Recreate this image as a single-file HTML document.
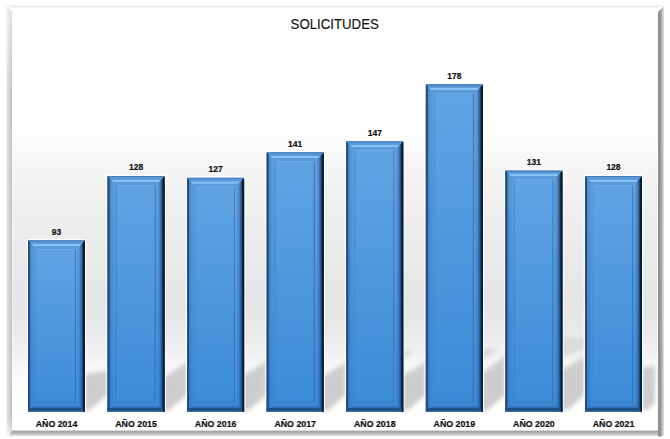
<!DOCTYPE html>
<html><head><meta charset="utf-8"><style>
html,body{margin:0;padding:0;background:#fff;}
body{width:670px;height:439px;overflow:hidden;}
svg{display:block;}
text{font-family:"Liberation Sans",sans-serif;}
.t{font-size:15.3px;text-anchor:middle;fill:#141414;stroke:#141414;stroke-width:0.15px;}
.v{font-size:8.5px;font-weight:bold;text-anchor:middle;fill:#111;stroke:#111;stroke-width:0.2px;}
.c{font-size:8.9px;font-weight:bold;text-anchor:middle;fill:#111;stroke:#111;stroke-width:0.2px;}
</style></head><body>
<svg width="670" height="439" viewBox="0 0 670 439">
<defs>
<linearGradient id="bgv" x1="0" y1="7" x2="0" y2="431" gradientUnits="userSpaceOnUse">
  <stop offset="0.0000" stop-color="#ffffff"/>
  <stop offset="0.2712" stop-color="#ffffff"/>
  <stop offset="0.3137" stop-color="#fcfcfc"/>
  <stop offset="0.3844" stop-color="#f5f5f5"/>
  <stop offset="0.4788" stop-color="#efefef"/>
  <stop offset="0.5849" stop-color="#eaeaea"/>
  <stop offset="0.6321" stop-color="#e8e8e8"/>
  <stop offset="0.6910" stop-color="#e5e5e5"/>
  <stop offset="0.7264" stop-color="#e6e6e6"/>
  <stop offset="0.7665" stop-color="#eaeaea"/>
  <stop offset="0.8090" stop-color="#f0f0f0"/>
  <stop offset="0.8561" stop-color="#f9f9f9"/>
  <stop offset="0.9080" stop-color="#ffffff"/>
  <stop offset="1.0000" stop-color="#ffffff"/>
</linearGradient>
<linearGradient id="fill" x1="0" y1="0" x2="0" y2="1">
  <stop offset="0" stop-color="#62a5e3"/>
  <stop offset="1" stop-color="#3b8ad7"/>
</linearGradient>
<linearGradient id="ov" x1="0" y1="0" x2="0" y2="1">
  <stop offset="0" stop-color="#0061c6" stop-opacity="0"/>
  <stop offset="1" stop-color="#0061c6" stop-opacity="0.35"/>
</linearGradient>
<linearGradient id="BD" x1="0" y1="0" x2="0" y2="1"><stop offset="0" stop-color="#1d4f80"/><stop offset="0.5" stop-color="#1d4f80"/><stop offset="1" stop-color="#3a6aa0"/></linearGradient>
<filter id="fblur" x="-5%" y="-5%" width="110%" height="110%"><feGaussianBlur stdDeviation="0.5"/></filter>
<filter id="blur" x="-50%" y="-50%" width="200%" height="200%"><feGaussianBlur stdDeviation="2"/></filter>
<linearGradient id="L0" gradientUnits="userSpaceOnUse" x1="28.00" y1="0" x2="38.00" y2="0"><stop offset="0" stop-color="#26497a"/><stop offset="0.16" stop-color="#2c5689"/><stop offset="0.22" stop-color="#4a86c6"/><stop offset="0.4" stop-color="#5595d5"/><stop offset="0.55" stop-color="#5a9ad6"/><stop offset="0.62" stop-color="#5aa0d4"/><stop offset="0.85" stop-color="#5a9ddb"/><stop offset="0.9" stop-color="#4e8fd5"/><stop offset="0.95" stop-color="#62a4e4"/><stop offset="1" stop-color="#5ea0e0"/></linearGradient><linearGradient id="R0" gradientUnits="userSpaceOnUse" x1="75.00" y1="0" x2="85.00" y2="0"><stop offset="0" stop-color="#3d7cc0"/><stop offset="0.08" stop-color="#3d7cc0"/><stop offset="0.13" stop-color="#62a2e2"/><stop offset="0.3" stop-color="#5e9edc"/><stop offset="0.45" stop-color="#5590cc"/><stop offset="0.6" stop-color="#4275b0"/><stop offset="0.74" stop-color="#2a4a70"/><stop offset="0.86" stop-color="#0f2035"/><stop offset="1" stop-color="#0a1525"/></linearGradient><linearGradient id="T0" gradientUnits="userSpaceOnUse" x1="0" y1="240.24" x2="0" y2="250.24"><stop offset="0" stop-color="#4678b8"/><stop offset="0.12" stop-color="#4a82c0"/><stop offset="0.15" stop-color="#5a9ad8"/><stop offset="0.35" stop-color="#5a9ad8"/><stop offset="0.4" stop-color="#86c4f5"/><stop offset="0.55" stop-color="#86c4f5"/><stop offset="0.6" stop-color="#5a9ad8"/><stop offset="0.85" stop-color="#5a9ad8"/><stop offset="0.88" stop-color="#6aacea"/><stop offset="1" stop-color="#66a8e6"/></linearGradient><linearGradient id="B0" gradientUnits="userSpaceOnUse" x1="0" y1="401.70" x2="0" y2="411.70"><stop offset="0" stop-color="#3a80c8"/><stop offset="0.12" stop-color="#3a80c8"/><stop offset="0.16" stop-color="#3c88d2"/><stop offset="0.45" stop-color="#3c88d2"/><stop offset="0.5" stop-color="#2f6eb5"/><stop offset="0.62" stop-color="#2f6eb5"/><stop offset="0.66" stop-color="#1d4f80"/><stop offset="0.83" stop-color="#1d4f80"/><stop offset="0.9" stop-color="#2f5f98"/><stop offset="1" stop-color="#3a6aa0"/></linearGradient><linearGradient id="L1" gradientUnits="userSpaceOnUse" x1="107.57" y1="0" x2="117.57" y2="0"><stop offset="0" stop-color="#26497a"/><stop offset="0.16" stop-color="#2c5689"/><stop offset="0.22" stop-color="#4a86c6"/><stop offset="0.4" stop-color="#5595d5"/><stop offset="0.55" stop-color="#5a9ad6"/><stop offset="0.62" stop-color="#5aa0d4"/><stop offset="0.85" stop-color="#5a9ddb"/><stop offset="0.9" stop-color="#4e8fd5"/><stop offset="0.95" stop-color="#62a4e4"/><stop offset="1" stop-color="#5ea0e0"/></linearGradient><linearGradient id="R1" gradientUnits="userSpaceOnUse" x1="154.57" y1="0" x2="164.57" y2="0"><stop offset="0" stop-color="#3d7cc0"/><stop offset="0.08" stop-color="#3d7cc0"/><stop offset="0.13" stop-color="#62a2e2"/><stop offset="0.3" stop-color="#5e9edc"/><stop offset="0.45" stop-color="#5590cc"/><stop offset="0.6" stop-color="#4275b0"/><stop offset="0.74" stop-color="#2a4a70"/><stop offset="0.86" stop-color="#0f2035"/><stop offset="1" stop-color="#0a1525"/></linearGradient><linearGradient id="T1" gradientUnits="userSpaceOnUse" x1="0" y1="176.02" x2="0" y2="186.02"><stop offset="0" stop-color="#4678b8"/><stop offset="0.12" stop-color="#4a82c0"/><stop offset="0.15" stop-color="#5a9ad8"/><stop offset="0.35" stop-color="#5a9ad8"/><stop offset="0.4" stop-color="#86c4f5"/><stop offset="0.55" stop-color="#86c4f5"/><stop offset="0.6" stop-color="#5a9ad8"/><stop offset="0.85" stop-color="#5a9ad8"/><stop offset="0.88" stop-color="#6aacea"/><stop offset="1" stop-color="#66a8e6"/></linearGradient><linearGradient id="B1" gradientUnits="userSpaceOnUse" x1="0" y1="401.70" x2="0" y2="411.70"><stop offset="0" stop-color="#3a80c8"/><stop offset="0.12" stop-color="#3a80c8"/><stop offset="0.16" stop-color="#3c88d2"/><stop offset="0.45" stop-color="#3c88d2"/><stop offset="0.5" stop-color="#2f6eb5"/><stop offset="0.62" stop-color="#2f6eb5"/><stop offset="0.66" stop-color="#1d4f80"/><stop offset="0.83" stop-color="#1d4f80"/><stop offset="0.9" stop-color="#2f5f98"/><stop offset="1" stop-color="#3a6aa0"/></linearGradient><linearGradient id="L2" gradientUnits="userSpaceOnUse" x1="187.14" y1="0" x2="197.14" y2="0"><stop offset="0" stop-color="#26497a"/><stop offset="0.16" stop-color="#2c5689"/><stop offset="0.22" stop-color="#4a86c6"/><stop offset="0.4" stop-color="#5595d5"/><stop offset="0.55" stop-color="#5a9ad6"/><stop offset="0.62" stop-color="#5aa0d4"/><stop offset="0.85" stop-color="#5a9ddb"/><stop offset="0.9" stop-color="#4e8fd5"/><stop offset="0.95" stop-color="#62a4e4"/><stop offset="1" stop-color="#5ea0e0"/></linearGradient><linearGradient id="R2" gradientUnits="userSpaceOnUse" x1="234.14" y1="0" x2="244.14" y2="0"><stop offset="0" stop-color="#3d7cc0"/><stop offset="0.08" stop-color="#3d7cc0"/><stop offset="0.13" stop-color="#62a2e2"/><stop offset="0.3" stop-color="#5e9edc"/><stop offset="0.45" stop-color="#5590cc"/><stop offset="0.6" stop-color="#4275b0"/><stop offset="0.74" stop-color="#2a4a70"/><stop offset="0.86" stop-color="#0f2035"/><stop offset="1" stop-color="#0a1525"/></linearGradient><linearGradient id="T2" gradientUnits="userSpaceOnUse" x1="0" y1="177.85" x2="0" y2="187.85"><stop offset="0" stop-color="#4678b8"/><stop offset="0.12" stop-color="#4a82c0"/><stop offset="0.15" stop-color="#5a9ad8"/><stop offset="0.35" stop-color="#5a9ad8"/><stop offset="0.4" stop-color="#86c4f5"/><stop offset="0.55" stop-color="#86c4f5"/><stop offset="0.6" stop-color="#5a9ad8"/><stop offset="0.85" stop-color="#5a9ad8"/><stop offset="0.88" stop-color="#6aacea"/><stop offset="1" stop-color="#66a8e6"/></linearGradient><linearGradient id="B2" gradientUnits="userSpaceOnUse" x1="0" y1="401.70" x2="0" y2="411.70"><stop offset="0" stop-color="#3a80c8"/><stop offset="0.12" stop-color="#3a80c8"/><stop offset="0.16" stop-color="#3c88d2"/><stop offset="0.45" stop-color="#3c88d2"/><stop offset="0.5" stop-color="#2f6eb5"/><stop offset="0.62" stop-color="#2f6eb5"/><stop offset="0.66" stop-color="#1d4f80"/><stop offset="0.83" stop-color="#1d4f80"/><stop offset="0.9" stop-color="#2f5f98"/><stop offset="1" stop-color="#3a6aa0"/></linearGradient><linearGradient id="L3" gradientUnits="userSpaceOnUse" x1="266.71" y1="0" x2="276.71" y2="0"><stop offset="0" stop-color="#26497a"/><stop offset="0.16" stop-color="#2c5689"/><stop offset="0.22" stop-color="#4a86c6"/><stop offset="0.4" stop-color="#5595d5"/><stop offset="0.55" stop-color="#5a9ad6"/><stop offset="0.62" stop-color="#5aa0d4"/><stop offset="0.85" stop-color="#5a9ddb"/><stop offset="0.9" stop-color="#4e8fd5"/><stop offset="0.95" stop-color="#62a4e4"/><stop offset="1" stop-color="#5ea0e0"/></linearGradient><linearGradient id="R3" gradientUnits="userSpaceOnUse" x1="313.71" y1="0" x2="323.71" y2="0"><stop offset="0" stop-color="#3d7cc0"/><stop offset="0.08" stop-color="#3d7cc0"/><stop offset="0.13" stop-color="#62a2e2"/><stop offset="0.3" stop-color="#5e9edc"/><stop offset="0.45" stop-color="#5590cc"/><stop offset="0.6" stop-color="#4275b0"/><stop offset="0.74" stop-color="#2a4a70"/><stop offset="0.86" stop-color="#0f2035"/><stop offset="1" stop-color="#0a1525"/></linearGradient><linearGradient id="T3" gradientUnits="userSpaceOnUse" x1="0" y1="152.16" x2="0" y2="162.16"><stop offset="0" stop-color="#4678b8"/><stop offset="0.12" stop-color="#4a82c0"/><stop offset="0.15" stop-color="#5a9ad8"/><stop offset="0.35" stop-color="#5a9ad8"/><stop offset="0.4" stop-color="#86c4f5"/><stop offset="0.55" stop-color="#86c4f5"/><stop offset="0.6" stop-color="#5a9ad8"/><stop offset="0.85" stop-color="#5a9ad8"/><stop offset="0.88" stop-color="#6aacea"/><stop offset="1" stop-color="#66a8e6"/></linearGradient><linearGradient id="B3" gradientUnits="userSpaceOnUse" x1="0" y1="401.70" x2="0" y2="411.70"><stop offset="0" stop-color="#3a80c8"/><stop offset="0.12" stop-color="#3a80c8"/><stop offset="0.16" stop-color="#3c88d2"/><stop offset="0.45" stop-color="#3c88d2"/><stop offset="0.5" stop-color="#2f6eb5"/><stop offset="0.62" stop-color="#2f6eb5"/><stop offset="0.66" stop-color="#1d4f80"/><stop offset="0.83" stop-color="#1d4f80"/><stop offset="0.9" stop-color="#2f5f98"/><stop offset="1" stop-color="#3a6aa0"/></linearGradient><linearGradient id="L4" gradientUnits="userSpaceOnUse" x1="346.28" y1="0" x2="356.28" y2="0"><stop offset="0" stop-color="#26497a"/><stop offset="0.16" stop-color="#2c5689"/><stop offset="0.22" stop-color="#4a86c6"/><stop offset="0.4" stop-color="#5595d5"/><stop offset="0.55" stop-color="#5a9ad6"/><stop offset="0.62" stop-color="#5aa0d4"/><stop offset="0.85" stop-color="#5a9ddb"/><stop offset="0.9" stop-color="#4e8fd5"/><stop offset="0.95" stop-color="#62a4e4"/><stop offset="1" stop-color="#5ea0e0"/></linearGradient><linearGradient id="R4" gradientUnits="userSpaceOnUse" x1="393.28" y1="0" x2="403.28" y2="0"><stop offset="0" stop-color="#3d7cc0"/><stop offset="0.08" stop-color="#3d7cc0"/><stop offset="0.13" stop-color="#62a2e2"/><stop offset="0.3" stop-color="#5e9edc"/><stop offset="0.45" stop-color="#5590cc"/><stop offset="0.6" stop-color="#4275b0"/><stop offset="0.74" stop-color="#2a4a70"/><stop offset="0.86" stop-color="#0f2035"/><stop offset="1" stop-color="#0a1525"/></linearGradient><linearGradient id="T4" gradientUnits="userSpaceOnUse" x1="0" y1="141.15" x2="0" y2="151.15"><stop offset="0" stop-color="#4678b8"/><stop offset="0.12" stop-color="#4a82c0"/><stop offset="0.15" stop-color="#5a9ad8"/><stop offset="0.35" stop-color="#5a9ad8"/><stop offset="0.4" stop-color="#86c4f5"/><stop offset="0.55" stop-color="#86c4f5"/><stop offset="0.6" stop-color="#5a9ad8"/><stop offset="0.85" stop-color="#5a9ad8"/><stop offset="0.88" stop-color="#6aacea"/><stop offset="1" stop-color="#66a8e6"/></linearGradient><linearGradient id="B4" gradientUnits="userSpaceOnUse" x1="0" y1="401.70" x2="0" y2="411.70"><stop offset="0" stop-color="#3a80c8"/><stop offset="0.12" stop-color="#3a80c8"/><stop offset="0.16" stop-color="#3c88d2"/><stop offset="0.45" stop-color="#3c88d2"/><stop offset="0.5" stop-color="#2f6eb5"/><stop offset="0.62" stop-color="#2f6eb5"/><stop offset="0.66" stop-color="#1d4f80"/><stop offset="0.83" stop-color="#1d4f80"/><stop offset="0.9" stop-color="#2f5f98"/><stop offset="1" stop-color="#3a6aa0"/></linearGradient><linearGradient id="L5" gradientUnits="userSpaceOnUse" x1="425.85" y1="0" x2="435.85" y2="0"><stop offset="0" stop-color="#26497a"/><stop offset="0.16" stop-color="#2c5689"/><stop offset="0.22" stop-color="#4a86c6"/><stop offset="0.4" stop-color="#5595d5"/><stop offset="0.55" stop-color="#5a9ad6"/><stop offset="0.62" stop-color="#5aa0d4"/><stop offset="0.85" stop-color="#5a9ddb"/><stop offset="0.9" stop-color="#4e8fd5"/><stop offset="0.95" stop-color="#62a4e4"/><stop offset="1" stop-color="#5ea0e0"/></linearGradient><linearGradient id="R5" gradientUnits="userSpaceOnUse" x1="472.85" y1="0" x2="482.85" y2="0"><stop offset="0" stop-color="#3d7cc0"/><stop offset="0.08" stop-color="#3d7cc0"/><stop offset="0.13" stop-color="#62a2e2"/><stop offset="0.3" stop-color="#5e9edc"/><stop offset="0.45" stop-color="#5590cc"/><stop offset="0.6" stop-color="#4275b0"/><stop offset="0.74" stop-color="#2a4a70"/><stop offset="0.86" stop-color="#0f2035"/><stop offset="1" stop-color="#0a1525"/></linearGradient><linearGradient id="T5" gradientUnits="userSpaceOnUse" x1="0" y1="84.27" x2="0" y2="94.27"><stop offset="0" stop-color="#4678b8"/><stop offset="0.12" stop-color="#4a82c0"/><stop offset="0.15" stop-color="#5a9ad8"/><stop offset="0.35" stop-color="#5a9ad8"/><stop offset="0.4" stop-color="#86c4f5"/><stop offset="0.55" stop-color="#86c4f5"/><stop offset="0.6" stop-color="#5a9ad8"/><stop offset="0.85" stop-color="#5a9ad8"/><stop offset="0.88" stop-color="#6aacea"/><stop offset="1" stop-color="#66a8e6"/></linearGradient><linearGradient id="B5" gradientUnits="userSpaceOnUse" x1="0" y1="401.70" x2="0" y2="411.70"><stop offset="0" stop-color="#3a80c8"/><stop offset="0.12" stop-color="#3a80c8"/><stop offset="0.16" stop-color="#3c88d2"/><stop offset="0.45" stop-color="#3c88d2"/><stop offset="0.5" stop-color="#2f6eb5"/><stop offset="0.62" stop-color="#2f6eb5"/><stop offset="0.66" stop-color="#1d4f80"/><stop offset="0.83" stop-color="#1d4f80"/><stop offset="0.9" stop-color="#2f5f98"/><stop offset="1" stop-color="#3a6aa0"/></linearGradient><linearGradient id="L6" gradientUnits="userSpaceOnUse" x1="505.42" y1="0" x2="515.42" y2="0"><stop offset="0" stop-color="#26497a"/><stop offset="0.16" stop-color="#2c5689"/><stop offset="0.22" stop-color="#4a86c6"/><stop offset="0.4" stop-color="#5595d5"/><stop offset="0.55" stop-color="#5a9ad6"/><stop offset="0.62" stop-color="#5aa0d4"/><stop offset="0.85" stop-color="#5a9ddb"/><stop offset="0.9" stop-color="#4e8fd5"/><stop offset="0.95" stop-color="#62a4e4"/><stop offset="1" stop-color="#5ea0e0"/></linearGradient><linearGradient id="R6" gradientUnits="userSpaceOnUse" x1="552.42" y1="0" x2="562.42" y2="0"><stop offset="0" stop-color="#3d7cc0"/><stop offset="0.08" stop-color="#3d7cc0"/><stop offset="0.13" stop-color="#62a2e2"/><stop offset="0.3" stop-color="#5e9edc"/><stop offset="0.45" stop-color="#5590cc"/><stop offset="0.6" stop-color="#4275b0"/><stop offset="0.74" stop-color="#2a4a70"/><stop offset="0.86" stop-color="#0f2035"/><stop offset="1" stop-color="#0a1525"/></linearGradient><linearGradient id="T6" gradientUnits="userSpaceOnUse" x1="0" y1="170.51" x2="0" y2="180.51"><stop offset="0" stop-color="#4678b8"/><stop offset="0.12" stop-color="#4a82c0"/><stop offset="0.15" stop-color="#5a9ad8"/><stop offset="0.35" stop-color="#5a9ad8"/><stop offset="0.4" stop-color="#86c4f5"/><stop offset="0.55" stop-color="#86c4f5"/><stop offset="0.6" stop-color="#5a9ad8"/><stop offset="0.85" stop-color="#5a9ad8"/><stop offset="0.88" stop-color="#6aacea"/><stop offset="1" stop-color="#66a8e6"/></linearGradient><linearGradient id="B6" gradientUnits="userSpaceOnUse" x1="0" y1="401.70" x2="0" y2="411.70"><stop offset="0" stop-color="#3a80c8"/><stop offset="0.12" stop-color="#3a80c8"/><stop offset="0.16" stop-color="#3c88d2"/><stop offset="0.45" stop-color="#3c88d2"/><stop offset="0.5" stop-color="#2f6eb5"/><stop offset="0.62" stop-color="#2f6eb5"/><stop offset="0.66" stop-color="#1d4f80"/><stop offset="0.83" stop-color="#1d4f80"/><stop offset="0.9" stop-color="#2f5f98"/><stop offset="1" stop-color="#3a6aa0"/></linearGradient><linearGradient id="L7" gradientUnits="userSpaceOnUse" x1="584.99" y1="0" x2="594.99" y2="0"><stop offset="0" stop-color="#26497a"/><stop offset="0.16" stop-color="#2c5689"/><stop offset="0.22" stop-color="#4a86c6"/><stop offset="0.4" stop-color="#5595d5"/><stop offset="0.55" stop-color="#5a9ad6"/><stop offset="0.62" stop-color="#5aa0d4"/><stop offset="0.85" stop-color="#5a9ddb"/><stop offset="0.9" stop-color="#4e8fd5"/><stop offset="0.95" stop-color="#62a4e4"/><stop offset="1" stop-color="#5ea0e0"/></linearGradient><linearGradient id="R7" gradientUnits="userSpaceOnUse" x1="631.99" y1="0" x2="641.99" y2="0"><stop offset="0" stop-color="#3d7cc0"/><stop offset="0.08" stop-color="#3d7cc0"/><stop offset="0.13" stop-color="#62a2e2"/><stop offset="0.3" stop-color="#5e9edc"/><stop offset="0.45" stop-color="#5590cc"/><stop offset="0.6" stop-color="#4275b0"/><stop offset="0.74" stop-color="#2a4a70"/><stop offset="0.86" stop-color="#0f2035"/><stop offset="1" stop-color="#0a1525"/></linearGradient><linearGradient id="T7" gradientUnits="userSpaceOnUse" x1="0" y1="176.02" x2="0" y2="186.02"><stop offset="0" stop-color="#4678b8"/><stop offset="0.12" stop-color="#4a82c0"/><stop offset="0.15" stop-color="#5a9ad8"/><stop offset="0.35" stop-color="#5a9ad8"/><stop offset="0.4" stop-color="#86c4f5"/><stop offset="0.55" stop-color="#86c4f5"/><stop offset="0.6" stop-color="#5a9ad8"/><stop offset="0.85" stop-color="#5a9ad8"/><stop offset="0.88" stop-color="#6aacea"/><stop offset="1" stop-color="#66a8e6"/></linearGradient><linearGradient id="B7" gradientUnits="userSpaceOnUse" x1="0" y1="401.70" x2="0" y2="411.70"><stop offset="0" stop-color="#3a80c8"/><stop offset="0.12" stop-color="#3a80c8"/><stop offset="0.16" stop-color="#3c88d2"/><stop offset="0.45" stop-color="#3c88d2"/><stop offset="0.5" stop-color="#2f6eb5"/><stop offset="0.62" stop-color="#2f6eb5"/><stop offset="0.66" stop-color="#1d4f80"/><stop offset="0.83" stop-color="#1d4f80"/><stop offset="0.9" stop-color="#2f5f98"/><stop offset="1" stop-color="#3a6aa0"/></linearGradient>
<linearGradient id="fl" x1="0" y1="0" x2="1" y2="0"><stop offset="0" stop-color="#e6e6e6"/><stop offset="1" stop-color="#c0c0c0"/></linearGradient>
<linearGradient id="flv" x1="0" y1="6" x2="0" y2="433" gradientUnits="userSpaceOnUse"><stop offset="0" stop-color="#ffffff" stop-opacity="0.5"/><stop offset="0.2" stop-color="#ffffff" stop-opacity="0"/><stop offset="0.97" stop-color="#ffffff" stop-opacity="0"/><stop offset="1" stop-color="#ffffff" stop-opacity="0.6"/></linearGradient>
<linearGradient id="fr" x1="0" y1="0" x2="1" y2="0"><stop offset="0" stop-color="#8a8a8a"/><stop offset="0.45" stop-color="#999999"/><stop offset="1" stop-color="#e6e6e6"/></linearGradient>
<linearGradient id="fb" x1="0" y1="430.5" x2="0" y2="436.5" gradientUnits="userSpaceOnUse"><stop offset="0" stop-color="#b4b4b4"/><stop offset="0.2" stop-color="#a2a2a2"/><stop offset="0.45" stop-color="#b8b8b8"/><stop offset="0.8" stop-color="#dcdcdc"/><stop offset="1" stop-color="#f4f4f4"/></linearGradient>
</defs>
<rect x="0" y="0" width="670" height="439" fill="#ffffff"/>
<rect x="12" y="7" width="646" height="424" fill="url(#bgv)"/>
<rect x="657" y="7" width="1" height="424" fill="#ffffff"/>
<polygon points="6.5,6 12,11.5 12,431 8.5,435 6.5,435" fill="url(#fl)"/>
<polygon points="6.5,6 12,11.5 12,431 8.5,435 6.5,435" fill="url(#flv)"/>
<rect x="12" y="11.5" width="0.8" height="419" fill="#ffffff" opacity="0.7"/>
<g filter="url(#fblur)"><polygon points="8.5,436.5 12,430.5 660,430.5 660,436.5" fill="url(#fb)"/>
<polygon points="658,12 664,6 664,435 661.5,436.6 658,436.6" fill="url(#fr)"/></g>
<polygon points="6.5,5.5 664,5.5 658,7.5 12,7.5" fill="#ececec"/>
<g filter="url(#blur)"><polygon points="83.0,374.5 107.6,370 107.6,395.0 89.0,410.5 83.0,410.5" fill="#cdcdcd"/><polygon points="162.6,378 187.2,362 187.2,395.0 168.6,410.5 162.6,410.5" fill="#cdcdcd"/><polygon points="242.1,376 266.7,361 266.7,395.0 248.1,410.5 242.1,410.5" fill="#cdcdcd"/><polygon points="321.7,377 346.3,362 346.3,395.0 327.7,410.5 321.7,410.5" fill="#cdcdcd"/><polygon points="401.3,376 425.9,362 425.9,395.0 407.3,410.5 401.3,410.5" fill="#cdcdcd"/><polygon points="480.8,374 505.4,356 505.4,395.0 486.8,410.5 480.8,410.5" fill="#cdcdcd"/><polygon points="560.4,371 585.0,356 585.0,395.0 566.4,410.5 560.4,410.5" fill="#cdcdcd"/><polygon points="640.0,368 655.0,366 655.0,403.0 646.0,410.5 640.0,410.5" fill="#cdcdcd"/><polygon points="560.4,337 585.4,337 585.4,349 560.4,359" fill="#dcdcdc"/><polygon points="480.8,349 497.8,349 488.8,357 480.8,358" fill="#d8d8d8"/><polygon points="401.3,351 413.3,351 407.3,357 401.3,357" fill="#dadada"/></g><rect x="26.70" y="238.94" width="59.60" height="172.76" fill="#ffffff"/><rect x="28.00" y="240.24" width="57.00" height="171.46" fill="url(#fill)"/><polygon points="28.00,240.24 38.00,250.24 38.00,401.70 28.00,411.70" fill="url(#L0)"/><polygon points="85.00,240.24 85.00,411.70 75.00,401.70 75.00,250.24" fill="url(#R0)"/><rect x="28.00" y="240.24" width="10.00" height="171.46" fill="url(#ov)" clip-path="none"/><rect x="75.00" y="240.24" width="10.00" height="171.46" fill="url(#ov)"/><polygon points="28.00,240.24 85.00,240.24 75.00,250.24 38.00,250.24" fill="url(#T0)"/><polygon points="28.00,411.70 38.00,401.70 75.00,401.70 85.00,411.70" fill="url(#B0)"/><rect x="28.00" y="408.10" width="57.00" height="3.6" fill="url(#BD)"/><rect x="83.40" y="241.74" width="1.6" height="169.96" fill="#0b1a2e"/><polygon points="28.00,240.54 29.90,242.44 29.90,409.80 28.00,411.70" fill="#2b4c74"/><text x="56.50" y="234.64" class="v">93</text><text x="56.50" y="427.4" class="c" textLength="41.6" lengthAdjust="spacingAndGlyphs">AÑO 2014</text><rect x="106.27" y="174.72" width="59.60" height="236.98" fill="#ffffff"/><rect x="107.57" y="176.02" width="57.00" height="235.68" fill="url(#fill)"/><polygon points="107.57,176.02 117.57,186.02 117.57,401.70 107.57,411.70" fill="url(#L1)"/><polygon points="164.57,176.02 164.57,411.70 154.57,401.70 154.57,186.02" fill="url(#R1)"/><rect x="107.57" y="176.02" width="10.00" height="235.68" fill="url(#ov)" clip-path="none"/><rect x="154.57" y="176.02" width="10.00" height="235.68" fill="url(#ov)"/><polygon points="107.57,176.02 164.57,176.02 154.57,186.02 117.57,186.02" fill="url(#T1)"/><polygon points="107.57,411.70 117.57,401.70 154.57,401.70 164.57,411.70" fill="url(#B1)"/><rect x="107.57" y="408.10" width="57.00" height="3.6" fill="url(#BD)"/><rect x="162.97" y="177.52" width="1.6" height="234.18" fill="#0b1a2e"/><polygon points="107.57,176.32 109.47,178.22 109.47,409.80 107.57,411.70" fill="#2b4c74"/><text x="136.07" y="170.42" class="v">128</text><text x="136.07" y="427.4" class="c" textLength="41.6" lengthAdjust="spacingAndGlyphs">AÑO 2015</text><rect x="185.84" y="176.55" width="59.60" height="235.15" fill="#ffffff"/><rect x="187.14" y="177.85" width="57.00" height="233.84" fill="url(#fill)"/><polygon points="187.14,177.85 197.14,187.85 197.14,401.70 187.14,411.70" fill="url(#L2)"/><polygon points="244.14,177.85 244.14,411.70 234.14,401.70 234.14,187.85" fill="url(#R2)"/><rect x="187.14" y="177.85" width="10.00" height="233.84" fill="url(#ov)" clip-path="none"/><rect x="234.14" y="177.85" width="10.00" height="233.84" fill="url(#ov)"/><polygon points="187.14,177.85 244.14,177.85 234.14,187.85 197.14,187.85" fill="url(#T2)"/><polygon points="187.14,411.70 197.14,401.70 234.14,401.70 244.14,411.70" fill="url(#B2)"/><rect x="187.14" y="408.10" width="57.00" height="3.6" fill="url(#BD)"/><rect x="242.54" y="179.35" width="1.6" height="232.34" fill="#0b1a2e"/><polygon points="187.14,178.16 189.04,180.05 189.04,409.80 187.14,411.70" fill="#2b4c74"/><text x="215.64" y="172.25" class="v">127</text><text x="215.64" y="427.4" class="c" textLength="41.6" lengthAdjust="spacingAndGlyphs">AÑO 2016</text><rect x="265.41" y="150.86" width="59.60" height="260.84" fill="#ffffff"/><rect x="266.71" y="152.16" width="57.00" height="259.54" fill="url(#fill)"/><polygon points="266.71,152.16 276.71,162.16 276.71,401.70 266.71,411.70" fill="url(#L3)"/><polygon points="323.71,152.16 323.71,411.70 313.71,401.70 313.71,162.16" fill="url(#R3)"/><rect x="266.71" y="152.16" width="10.00" height="259.54" fill="url(#ov)" clip-path="none"/><rect x="313.71" y="152.16" width="10.00" height="259.54" fill="url(#ov)"/><polygon points="266.71,152.16 323.71,152.16 313.71,162.16 276.71,162.16" fill="url(#T3)"/><polygon points="266.71,411.70 276.71,401.70 313.71,401.70 323.71,411.70" fill="url(#B3)"/><rect x="266.71" y="408.10" width="57.00" height="3.6" fill="url(#BD)"/><rect x="322.11" y="153.66" width="1.6" height="258.04" fill="#0b1a2e"/><polygon points="266.71,152.46 268.61,154.36 268.61,409.80 266.71,411.70" fill="#2b4c74"/><text x="295.21" y="146.56" class="v">141</text><text x="295.21" y="427.4" class="c" textLength="41.6" lengthAdjust="spacingAndGlyphs">AÑO 2017</text><rect x="344.98" y="139.85" width="59.60" height="271.85" fill="#ffffff"/><rect x="346.28" y="141.15" width="57.00" height="270.55" fill="url(#fill)"/><polygon points="346.28,141.15 356.28,151.15 356.28,401.70 346.28,411.70" fill="url(#L4)"/><polygon points="403.28,141.15 403.28,411.70 393.28,401.70 393.28,151.15" fill="url(#R4)"/><rect x="346.28" y="141.15" width="10.00" height="270.55" fill="url(#ov)" clip-path="none"/><rect x="393.28" y="141.15" width="10.00" height="270.55" fill="url(#ov)"/><polygon points="346.28,141.15 403.28,141.15 393.28,151.15 356.28,151.15" fill="url(#T4)"/><polygon points="346.28,411.70 356.28,401.70 393.28,401.70 403.28,411.70" fill="url(#B4)"/><rect x="346.28" y="408.10" width="57.00" height="3.6" fill="url(#BD)"/><rect x="401.68" y="142.65" width="1.6" height="269.05" fill="#0b1a2e"/><polygon points="346.28,141.45 348.18,143.35 348.18,409.80 346.28,411.70" fill="#2b4c74"/><text x="374.78" y="135.55" class="v">147</text><text x="374.78" y="427.4" class="c" textLength="41.6" lengthAdjust="spacingAndGlyphs">AÑO 2018</text><rect x="424.55" y="82.97" width="59.60" height="328.73" fill="#ffffff"/><rect x="425.85" y="84.27" width="57.00" height="327.43" fill="url(#fill)"/><polygon points="425.85,84.27 435.85,94.27 435.85,401.70 425.85,411.70" fill="url(#L5)"/><polygon points="482.85,84.27 482.85,411.70 472.85,401.70 472.85,94.27" fill="url(#R5)"/><rect x="425.85" y="84.27" width="10.00" height="327.43" fill="url(#ov)" clip-path="none"/><rect x="472.85" y="84.27" width="10.00" height="327.43" fill="url(#ov)"/><polygon points="425.85,84.27 482.85,84.27 472.85,94.27 435.85,94.27" fill="url(#T5)"/><polygon points="425.85,411.70 435.85,401.70 472.85,401.70 482.85,411.70" fill="url(#B5)"/><rect x="425.85" y="408.10" width="57.00" height="3.6" fill="url(#BD)"/><rect x="481.25" y="85.77" width="1.6" height="325.93" fill="#0b1a2e"/><polygon points="425.85,84.57 427.75,86.47 427.75,409.80 425.85,411.70" fill="#2b4c74"/><text x="454.35" y="78.67" class="v">178</text><text x="454.35" y="427.4" class="c" textLength="41.6" lengthAdjust="spacingAndGlyphs">AÑO 2019</text><rect x="504.12" y="169.21" width="59.60" height="242.49" fill="#ffffff"/><rect x="505.42" y="170.51" width="57.00" height="241.19" fill="url(#fill)"/><polygon points="505.42,170.51 515.42,180.51 515.42,401.70 505.42,411.70" fill="url(#L6)"/><polygon points="562.42,170.51 562.42,411.70 552.42,401.70 552.42,180.51" fill="url(#R6)"/><rect x="505.42" y="170.51" width="10.00" height="241.19" fill="url(#ov)" clip-path="none"/><rect x="552.42" y="170.51" width="10.00" height="241.19" fill="url(#ov)"/><polygon points="505.42,170.51 562.42,170.51 552.42,180.51 515.42,180.51" fill="url(#T6)"/><polygon points="505.42,411.70 515.42,401.70 552.42,401.70 562.42,411.70" fill="url(#B6)"/><rect x="505.42" y="408.10" width="57.00" height="3.6" fill="url(#BD)"/><rect x="560.82" y="172.01" width="1.6" height="239.69" fill="#0b1a2e"/><polygon points="505.42,170.81 507.32,172.71 507.32,409.80 505.42,411.70" fill="#2b4c74"/><text x="533.92" y="164.91" class="v">131</text><text x="533.92" y="427.4" class="c" textLength="41.6" lengthAdjust="spacingAndGlyphs">AÑO 2020</text><rect x="583.69" y="174.72" width="59.60" height="236.98" fill="#ffffff"/><rect x="584.99" y="176.02" width="57.00" height="235.68" fill="url(#fill)"/><polygon points="584.99,176.02 594.99,186.02 594.99,401.70 584.99,411.70" fill="url(#L7)"/><polygon points="641.99,176.02 641.99,411.70 631.99,401.70 631.99,186.02" fill="url(#R7)"/><rect x="584.99" y="176.02" width="10.00" height="235.68" fill="url(#ov)" clip-path="none"/><rect x="631.99" y="176.02" width="10.00" height="235.68" fill="url(#ov)"/><polygon points="584.99,176.02 641.99,176.02 631.99,186.02 594.99,186.02" fill="url(#T7)"/><polygon points="584.99,411.70 594.99,401.70 631.99,401.70 641.99,411.70" fill="url(#B7)"/><rect x="584.99" y="408.10" width="57.00" height="3.6" fill="url(#BD)"/><rect x="640.39" y="177.52" width="1.6" height="234.18" fill="#0b1a2e"/><polygon points="584.99,176.32 586.89,178.22 586.89,409.80 584.99,411.70" fill="#2b4c74"/><text x="613.49" y="170.42" class="v">128</text><text x="613.49" y="427.4" class="c" textLength="41.6" lengthAdjust="spacingAndGlyphs">AÑO 2021</text>
<text x="334.7" y="28.9" class="t" textLength="88.2" lengthAdjust="spacingAndGlyphs">SOLICITUDES</text>
</svg>
</body></html>
